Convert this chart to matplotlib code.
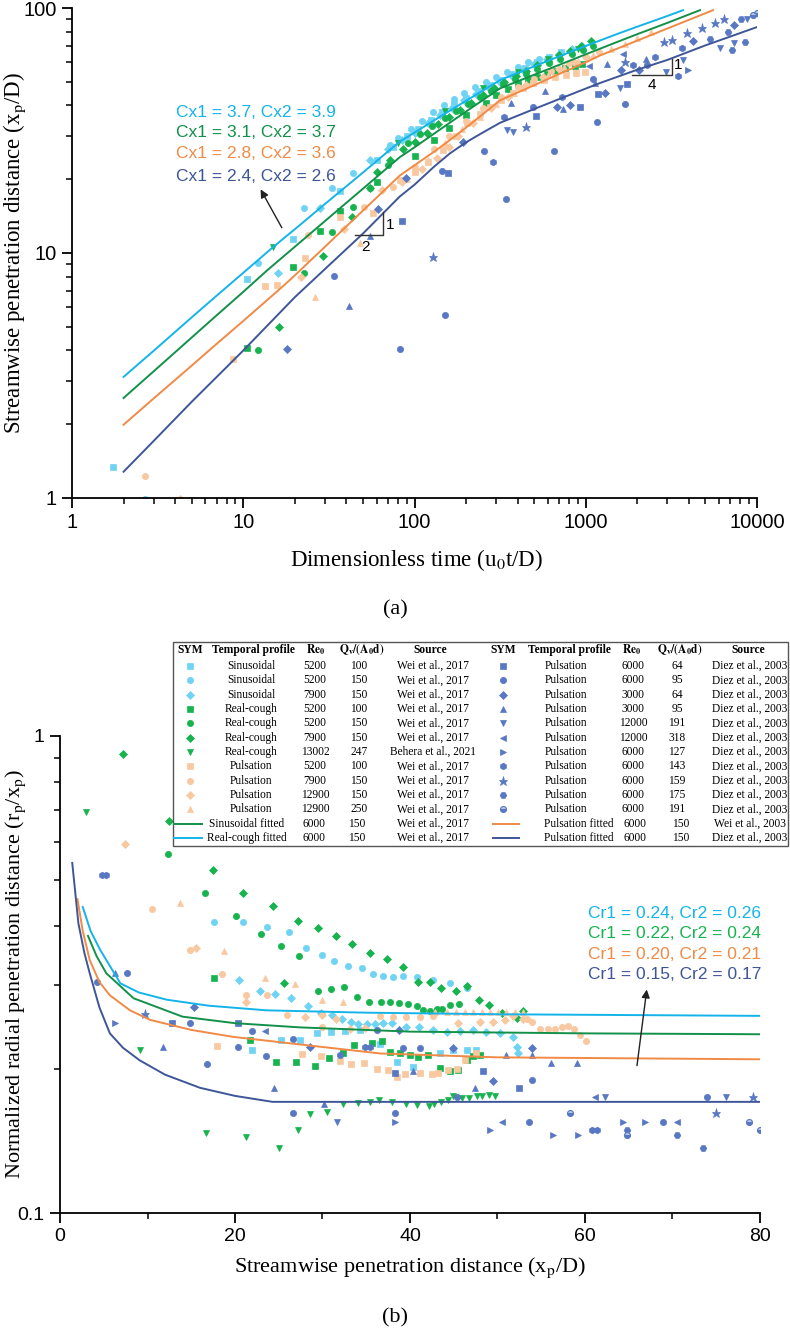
import matplotlib
matplotlib.use("Agg")
import matplotlib.pyplot as plt
from matplotlib.patches import Rectangle
from matplotlib.ticker import LogLocator, NullFormatter, FixedLocator, MultipleLocator

SERIF = ["Liberation Serif", "DejaVu Serif"]
SANS = ["Liberation Sans", "DejaVu Sans"]

plt.rcParams.update({
    "font.family": SERIF,
    "mathtext.fontset": "stix",
    "axes.linewidth": 1.3,
})

# --- colours ---
C_SIN, C_RC, C_PUL, C_DIEZ = "#6fd3f3", "#17b34f", "#f8c8a0", "#5878c4"
L_CYAN, L_GREEN, L_ORANGE, L_NAVY = "#14b4ea", "#13904a", "#f08a46", "#3e5598"

# ================= panel (a) data: t = u0t/D, y = xp/D =================
A_SIN100_T = [1.74, 10.5, 19.6, 36.5, 60, 75, 90, 105, 125, 145, 170, 200, 235, 275, 320, 375, 440, 520, 610, 720]
A_SIN100_Y = [1.34, 7.8, 11.4, 17.9, 24, 27, 30, 32, 35, 37.5, 40.5, 43, 46, 48.5, 51, 54, 57, 60, 63, 66]
A_SIN150_T = [2.67, 12.2, 22.6, 33, 43.7, 72, 80, 95, 110, 128, 148, 170, 195, 225, 260, 300, 345, 400, 460, 530]
A_SIN150_Y = [0.99, 9.1, 15.2, 18.5, 21.3, 27.6, 29.5, 32, 34.5, 37.5, 40, 42.5, 45, 47.5, 50, 52.5, 55, 57.5, 60, 62]
A_SIN7900_T = [16, 28, 55, 70, 85, 100, 120, 140, 165, 195, 230, 270, 315, 370, 430, 500, 590, 700, 830, 950]
A_SIN7900_Y = [8.3, 15.2, 24, 26.5, 29, 31, 34, 36.5, 39, 42, 44.5, 47.5, 50, 53, 56, 59, 62, 65, 68, 70]
A_RC100_T = [10.5, 19.6, 28, 36.5, 60, 100, 130, 160, 200, 260, 300, 350, 400, 460, 520, 590, 670, 760, 860, 950]
A_RC100_Y = [4.1, 8.8, 12.3, 14.8, 19.5, 25, 29, 32.5, 36.5, 41, 44, 46.5, 49, 51, 52.5, 54, 55.5, 57, 58, 59]
A_RC150_T = [12.2, 22.6, 33, 43.7, 55, 70, 92, 108, 127, 150, 175, 205, 240, 280, 330, 385, 450, 520, 610, 710,
             830, 960, 1100]
A_RC150_Y = [4.0, 8.3, 12.2, 15.4, 18.5, 22.8, 28, 30.5, 33, 35.5, 38, 40.5, 43.5, 46, 49, 51.5, 54, 56.5, 59.5, 62,
             65, 67.5, 70]
A_RC7900_T = [16.2, 29.2, 43, 55, 60, 72, 86, 100, 118, 138, 160, 185, 215, 250, 290, 335, 390, 450, 520, 600, 700,
              810, 940, 1080]
A_RC7900_Y = [5.0, 9.7, 14, 18.4, 21.5, 24, 26.5, 28.5, 31, 33.5, 36, 38.5, 41, 44, 47, 50, 53, 55.5, 58.5, 61, 64,
              67, 70, 73]
A_RC13002_T = [14.9, 80, 150, 250, 400, 600, 900]
A_RC13002_Y = [10.6, 28, 38, 47, 55, 62, 68]
A_PUL5200_T = [8.7, 13.4, 15.7, 22.9, 36.5, 57, 82, 100, 120, 147, 175, 202, 240, 275, 320, 375, 430, 495, 570, 660,
               770, 880, 990]
A_PUL5200_Y = [3.7, 7.3, 7.4, 9.5, 14, 14.6, 19.8, 21.5, 23.5, 26.3, 30, 34, 37, 39.5, 42, 45, 47, 49.5, 51, 52.5,
               53.5, 54.5, 55]
A_PUL7900_T = [2.67, 23.8, 51, 75, 100, 130, 160, 200, 250, 320, 400, 500, 630, 800, 1000, 1200]
A_PUL7900_Y = [1.23, 11.8, 15.4, 18.6, 22.5, 26.5, 30, 34.5, 39, 43.5, 47.5, 51.5, 55.5, 59.5, 63, 66]
A_PUL12900_T = [4.3, 21.8, 39, 65, 85, 110, 135, 160, 180, 220, 280, 350, 450, 560, 700, 850, 1000]
A_PUL12900_Y = [0.99, 8.0, 12.5, 18, 19.5, 22, 24.5, 27, 30, 34, 39, 43.5, 48.5, 52.5, 56.5, 60, 63]
A_PUL250_T = [26.3, 48, 90, 120, 150, 190, 240, 300, 380, 480, 600, 750, 900, 1100, 1400, 1700, 2000, 2400]
A_PUL250_Y = [6.6, 11, 20, 24, 28, 32, 36, 40.5, 45, 49.5, 53.5, 57.5, 61, 64.5, 68, 71.5, 75.5, 80]

A_D64_T = [84, 157, 515, 925, 1180, 1750]
A_D64_Y = [13.5, 21.2, 36.3, 39.5, 44.6, 49]
A_D95_T = [34, 82, 144, 150, 254, 342, 492, 650, 1100, 1170, 1700]
A_D95_Y = [8.05, 4.05, 21.6, 5.6, 26, 16.6, 39.5, 26, 51.4, 34.4, 40.5]
A_D3064_T = [18, 61, 89, 192, 680, 810, 1290, 1600, 2050, 4250, 7300]
A_D3064_Y = [4.05, 15.1, 20.3, 28.3, 39.5, 40.3, 45, 55.7, 55.7, 73.6, 85]
A_D3095_T = [41.5, 55, 367, 580, 740, 1140, 1330, 2250]
A_D3095_Y = [6.1, 11.7, 41, 45.8, 38.8, 49.5, 59, 62]
A_D191_T = [345, 375, 1580, 2950, 3700, 6050, 7300, 8700]
A_D191_Y = [31.8, 31.1, 47, 55, 61.5, 68.5, 72, 90]
A_D318_T = [1050, 1650]
A_D318_Y = [58, 65]
A_D127_T = [3980]
A_D127_Y = [55.7]
A_D143_T = [287, 333, 725, 1880, 2290, 2550, 3450, 3650]
A_D143_Y = [23.5, 35.8, 43.4, 58.5, 58.5, 63, 53, 68.5]
A_D159_T = [128, 446, 1700, 2880, 3200, 3900, 4800, 5650, 6450]
A_D159_Y = [9.6, 32.8, 60, 72.5, 74, 79, 82.5, 87, 90]
A_D175_T = [5300, 6800, 7100, 8100, 8500]
A_D175_Y = [75, 80, 67.5, 90.5, 72.5]
A_D191B_T = [9500, 10000]
A_D191B_Y = [94, 95]

# fitted curves (a)
FIT_A_CYAN_T = [2, 3, 5, 7, 10, 15, 20, 30, 50, 82, 100, 150, 200, 316, 500, 700, 1000, 1500, 2000, 3000, 3700]
FIT_A_CYAN_Y = [3.12, 3.99, 5.46, 6.7, 8.3, 10.6, 12.5, 15.85, 21.3, 28.5, 31, 37, 41.8, 50.8, 57.8, 63.5, 70, 78,
                83.9, 92.8, 98]
FIT_A_GREEN_T = [2, 3, 5, 7, 10, 13.8, 20, 30, 50, 82, 100, 150, 200, 316, 500, 700, 1000, 1520, 2000, 3000, 4650]
FIT_A_GREEN_Y = [2.56, 3.29, 4.52, 5.57, 6.94, 8.5, 10.6, 13.5, 18.3, 24.6, 27, 32.9, 37.8, 47, 53.4, 58.6, 64.7,
                 72.6, 78.2, 87, 98]
FIT_A_ORANGE_T = [2, 3, 5, 7, 10, 17, 20, 30, 50, 82, 100, 130, 161, 200, 250, 316, 500, 700, 1000, 1211, 2000,
                  3000, 5540]
FIT_A_ORANGE_Y = [1.99, 2.55, 3.47, 4.26, 5.28, 7.3, 8.1, 10.6, 14.9, 20.7, 22.8, 25.9, 28.9, 32.5, 36.8, 42, 48.4,
                  53.8, 60, 64, 73.6, 82.5, 98]
FIT_A_NAVY_T = [2, 3, 5, 7, 10, 15, 20, 30, 50, 82, 100, 130, 161, 200, 250, 316, 500, 700, 1000, 1211, 2000, 3000,
                5000, 7000, 10000]
FIT_A_NAVY_Y = [1.28, 1.71, 2.47, 3.12, 4.0, 5.36, 6.6, 8.6, 12.0, 17.0, 19.0, 22.5, 25.5, 28.3, 31, 34, 38.7, 42.5,
                46.9, 49.4, 56, 61.4, 70.4, 76.5, 83.6]

# ================= panel (b) data: x = xp/D, r = rp/xp =================
B_SIN100_X = [22, 25.3, 27.4, 29.4, 31, 32.6, 34.3, 36.6, 38.5, 40.4, 43.4, 44.9, 46.5, 47.6]
B_SIN100_R = [0.22, 0.23, 0.23, 0.238, 0.24, 0.241, 0.242, 0.226, 0.207, 0.2025, 0.2165, 0.22, 0.22, 0.22]
B_SIN150_X = [17.6, 20.9, 23.7, 26.2, 28.1, 29.9, 31.3, 32.9, 34.5, 35.8, 36.9, 38.1, 39.2, 40.8, 42.6, 44.6, 46.5]
B_SIN150_R = [0.407, 0.407, 0.398, 0.388, 0.359, 0.348, 0.337, 0.33, 0.326, 0.317, 0.314, 0.312, 0.314, 0.312,
              0.308, 0.304, 0.296]
B_SIN7900_X = [20.5, 22.9, 24.6, 26.4, 28.3, 29.8, 31.1, 32.2, 33.3, 34.1, 35.1, 36, 36.9, 37.9, 39.5, 41, 42.6,
               44.2, 45.7, 47.2, 48.7, 50.3, 51.8, 52.2, 52.3]
B_SIN7900_R = [0.308, 0.292, 0.288, 0.282, 0.271, 0.2625, 0.26, 0.255, 0.2515, 0.249, 0.249, 0.249, 0.25, 0.25,
               0.246, 0.245, 0.242, 0.2395, 0.241, 0.2415, 0.24, 0.2385, 0.2335, 0.2225, 0.2165]
B_RC100_X = [17.6, 21.7, 24.7, 27, 29.1, 30.7, 32.3, 33.6, 35.7, 36.8, 37.7, 38.9, 40, 40.9, 42.1, 43.4, 44.6,
             45.5, 46.5, 47.2, 48]
B_RC100_R = [0.311, 0.23, 0.207, 0.207, 0.203, 0.211, 0.217, 0.225, 0.227, 0.229, 0.218, 0.2165, 0.2145, 0.2125,
             0.2145, 0.2015, 0.198, 0.1995, 0.209, 0.2135, 0.2145]
B_RC150_X = [12.3, 16.6, 20.1, 23, 25.3, 27.3, 29.5, 31, 32.5, 34, 35.3, 36.7, 37.7, 38.7, 39.8, 40.8, 41.5,
             42.3, 43.1, 43.7, 44.6, 45.6]
B_RC150_R = [0.566, 0.469, 0.42, 0.385, 0.363, 0.346, 0.292, 0.295, 0.298, 0.284, 0.277, 0.277, 0.277, 0.2755,
             0.274, 0.271, 0.266, 0.265, 0.2675, 0.2675, 0.273, 0.274]
B_RC7900_X = [7.2, 12.5, 17.5, 20.9, 24.3, 25.6, 27.2, 29.5, 31.5, 33.4, 35.4, 37.4, 39.2, 40.9, 42.3, 43.6,
              45.3, 46.5, 47.9, 49, 50.5, 52.2, 52.9]
B_RC7900_R = [0.917, 0.664, 0.524, 0.469, 0.44, 0.303, 0.409, 0.396, 0.38, 0.366, 0.351, 0.341, 0.328, 0.305,
              0.305, 0.296, 0.292, 0.2995, 0.279, 0.273, 0.2625, 0.2565, 0.265]
B_RC13002_X = [3.0, 9.1, 16.7, 21.3, 25, 27.2, 28.6, 30.5, 32.4, 34.1, 35.4, 36.5, 38.0, 39.6, 40.8, 42.2,
               42.7, 43.6, 44.3, 44.9, 46, 46.8, 47.7, 48.2, 49, 49.7]
B_RC13002_R = [0.693, 0.22, 0.147, 0.144, 0.137, 0.149, 0.161, 0.163, 0.169, 0.17, 0.1705, 0.1725, 0.171, 0.169,
               0.1685, 0.168, 0.169, 0.171, 0.1725, 0.1755, 0.174, 0.1745, 0.1755, 0.176, 0.1768, 0.1762]
B_PUL5200_X = [17.9, 27.7, 29.8, 32, 33.3, 34.8, 36.2, 37.5, 38.5, 39.4, 41.1, 42.5, 43.2, 44.3, 45.4, 46.3, 47.6]
B_PUL5200_R = [0.224, 0.215, 0.2135, 0.208, 0.205, 0.2065, 0.2, 0.1995, 0.193, 0.1955, 0.197, 0.196, 0.197,
               0.1995, 0.2, 0.2095, 0.2165]
B_PUL7900_X = [10.5, 14.9, 18.5, 21.3, 23.7, 26, 29.9, 36.6, 38.1, 39.6, 41.1, 42.6, 53.4, 53.9, 54.9, 55.8,
               56.6, 57.4, 58.1, 58.7, 59.4, 60.1]
B_PUL7900_R = [0.434, 0.356, 0.317, 0.287, 0.287, 0.26, 0.245, 0.2585, 0.257, 0.2575, 0.257, 0.259, 0.2545,
               0.252, 0.2435, 0.2425, 0.2435, 0.246, 0.2465, 0.2425, 0.2365, 0.2295]
B_PUL12900_X = [7.4, 15.5, 21.3, 28, 30, 31.6, 33.1, 34.9, 45.5, 48, 49.5, 50.9, 51.8, 52.9]
B_PUL12900_R = [0.594, 0.36, 0.277, 0.257, 0.26, 0.2555, 0.243, 0.2445, 0.25, 0.2515, 0.2515, 0.254, 0.2585, 0.255]
B_PUL250_X = [13.7, 18.7, 23.4, 26.9, 30, 32.4, 42.9, 44.2, 45.3, 46.3, 47.2, 48.2, 49.1, 50.1, 51, 52, 52.9]
B_PUL250_R = [0.447, 0.354, 0.311, 0.302, 0.279, 0.277, 0.2637, 0.2637, 0.2637, 0.2637, 0.2637, 0.2637, 0.2637,
              0.2637, 0.2637, 0.2637, 0.2637]

B_D64_X = [12.8, 20.4, 38.3, 48.3, 52.5]
B_D64_R = [0.25, 0.25, 0.197, 0.198, 0.183]
B_D95_X = [4.2, 7.7, 14.9, 16.8, 20.4, 21.9, 23.5, 26.6, 32, 36.2, 39.2, 41.2, 54, 26.6, 38.3, 45.4, 53.6, 68.9, 73.9]
B_D95_R = [0.305, 0.318, 0.25, 0.205, 0.223, 0.241, 0.213, 0.232, 0.214, 0.242, 0.2215, 0.2215, 0.19, 0.162,
           0.162, 0.175, 0.155, 0.155, 0.175]
B_D3064_X = [15.3, 28.6, 38.8, 44.9, 49.5, 54]
B_D3064_R = [0.27, 0.223, 0.2415, 0.2215, 0.189, 0.2215]
B_D3095_X = [6.3, 11.8, 24.5, 30.2, 40.3, 47.4, 51, 54, 56.1, 59.1]
B_D3095_R = [0.318, 0.223, 0.183, 0.169, 0.198, 0.183, 0.2145, 0.2145, 0.2065, 0.2065]
B_D191_X = [31.7, 62.3, 76.1]
B_D191_R = [0.155, 0.175, 0.175]
B_D318_X = [23.4, 50.5, 61.1, 70.5]
B_D318_R = [0.241, 0.155, 0.175, 0.155]
B_D127_X = [6.3, 38.3, 49.1, 56.3, 59.2, 64.4, 66.9]
B_D127_R = [0.25, 0.155, 0.149, 0.1455, 0.1455, 0.155, 0.155]
B_D143_X = [4.8, 5.3, 34.9, 35.4, 60.8, 61.4]
B_D143_R = [0.511, 0.511, 0.223, 0.223, 0.149, 0.149]
B_D159_X = [9.7, 75, 79.2]
B_D159_R = [0.261, 0.162, 0.175]
B_D175_X = [64.8, 70.5, 73.5]
B_D175_R = [0.149, 0.1455, 0.137]
B_D191B_X = [58.3, 64.8, 78.7, 80]
B_D191B_R = [0.162, 0.1455, 0.155, 0.149]

FIT_B_CYAN_X = [2.6, 3.5, 4.6, 6.9, 9, 12.2, 17, 23.6, 35, 50, 80]
FIT_B_CYAN_R = [0.438, 0.39, 0.356, 0.303, 0.29, 0.28, 0.272, 0.266, 0.263, 0.261, 0.259]
FIT_B_GREEN_X = [3.2, 4.2, 5.3, 8.4, 14, 20, 27.4, 40, 60, 80]
FIT_B_GREEN_R = [0.381, 0.345, 0.318, 0.282, 0.258, 0.25, 0.245, 0.24, 0.238, 0.237]
FIT_B_ORANGE_X = [2.0, 2.6, 3.4, 4.5, 5.7, 8, 10.3, 15, 19.8, 28, 36.6, 50, 80]
FIT_B_ORANGE_R = [0.455, 0.39, 0.339, 0.305, 0.286, 0.266, 0.254, 0.242, 0.234, 0.225, 0.216, 0.212, 0.21]
FIT_B_NAVY_X = [1.4, 2.1, 2.8, 3.4, 4.5, 5.7, 7.2, 9.1, 12, 16, 20, 24.3, 40, 60, 80]
FIT_B_NAVY_R = [0.542, 0.405, 0.35, 0.318, 0.27, 0.238, 0.222, 0.209, 0.195, 0.183, 0.176, 0.171, 0.171, 0.171, 0.171]

# legend table rows
LEFT_PROFILE = ["Sinusoidal"] * 3 + ["Real-cough"] * 4 + ["Pulsation"] * 4
LEFT_RE = ["5200", "5200", "7900", "5200", "5200", "7900", "13002", "5200", "7900", "12900", "12900"]
LEFT_Q = ["100", "150", "150", "100", "150", "150", "247", "100", "150", "150", "250"]
LEFT_SRC = ["Wei et al., 2017"] * 6 + ["Behera et al., 2021"] + ["Wei et al., 2017"] * 4
RIGHT_RE = ["6000", "6000", "3000", "3000", "12000", "12000", "6000", "6000", "6000", "6000", "6000"]
RIGHT_Q = ["64", "95", "64", "95", "191", "318", "127", "143", "159", "175", "191"]
FIT_LABELS = ["Sinusoidal fitted", "Real-cough fitted", "Pulsation fitted", "Pulsation fitted"]
FIT_SRC = ["Wei et al., 2017", "Wei et al., 2017", "Wei et al., 2003", "Diez et al., 2003"]

# marker styles (series order of the table)
LEFT_STYLE = [("s", C_SIN), ("o", C_SIN), ("D", C_SIN), ("s", C_RC), ("o", C_RC), ("D", C_RC), ("v", C_RC),
              ("s", C_PUL), ("o", C_PUL), ("D", C_PUL), ("^", C_PUL)]
RIGHT_STYLE = [("s", C_DIEZ), ("o", C_DIEZ), ("D", C_DIEZ), ("^", C_DIEZ), ("v", C_DIEZ), ("<", C_DIEZ),
               (">", C_DIEZ), ("h", C_DIEZ), ("*", C_DIEZ), ("H", C_DIEZ), ("half", C_DIEZ)]
MS = {"s": 4.2, "o": 4.5, "D": 3.6, "v": 4.8, "^": 4.8, "<": 4.8, ">": 4.8, "h": 4.8, "*": 6.5, "H": 4.8, "half": 4.3}


def mk(ax, x, y, style, **kw):
    m, c = style
    if m == "half":
        ax.plot(x, y, ls="none", marker="o", ms=MS[m], color=c, mec=c, fillstyle="bottom",
                markerfacecoloralt="#b9c8ec", mew=0.8, **kw)
    else:
        ax.plot(x, y, ls="none", marker=m, ms=MS[m], color=c, mec=c, mew=0.5, **kw)


def style_axis(ax, fs):
    for s in ("top", "right"):
        ax.spines[s].set_visible(False)
    ax.tick_params(which="major", direction="out", length=7, width=1.3, labelsize=fs, pad=4)
    ax.tick_params(which="minor", direction="out", length=4, width=1.1)
    for lab in ax.get_xticklabels() + ax.get_yticklabels():
        lab.set_family(SANS)


fig = plt.figure(figsize=(7.9, 13.32), dpi=100)
W, H = 790.0, 1332.0

# ------------------------------------------------ panel (a)
ax1 = fig.add_axes([72 / W, 1 - 498 / H, 685 / W, 490 / H])
ax1.set_xscale("log")
ax1.set_yscale("log")

a_series = [
    (A_SIN100_T, A_SIN100_Y), (A_SIN150_T, A_SIN150_Y), (A_SIN7900_T, A_SIN7900_Y),
    (A_RC100_T, A_RC100_Y), (A_RC150_T, A_RC150_Y), (A_RC7900_T, A_RC7900_Y), (A_RC13002_T, A_RC13002_Y),
    (A_PUL5200_T, A_PUL5200_Y), (A_PUL7900_T, A_PUL7900_Y), (A_PUL12900_T, A_PUL12900_Y), (A_PUL250_T, A_PUL250_Y),
]
a_diez = [
    (A_D64_T, A_D64_Y), (A_D95_T, A_D95_Y), (A_D3064_T, A_D3064_Y), (A_D3095_T, A_D3095_Y),
    (A_D191_T, A_D191_Y), (A_D318_T, A_D318_Y), (A_D127_T, A_D127_Y), (A_D143_T, A_D143_Y),
    (A_D159_T, A_D159_Y), (A_D175_T, A_D175_Y), (A_D191B_T, A_D191B_Y),
]
for (x, y), st in zip(a_series + a_diez, LEFT_STYLE + RIGHT_STYLE):
    mk(ax1, x, y, st, zorder=2)

ax1.plot(FIT_A_CYAN_T, FIT_A_CYAN_Y, color=L_CYAN, lw=1.4, zorder=3)
ax1.plot(FIT_A_GREEN_T, FIT_A_GREEN_Y, color=L_GREEN, lw=1.4, zorder=3)
ax1.plot(FIT_A_ORANGE_T, FIT_A_ORANGE_Y, color=L_ORANGE, lw=1.4, zorder=3)
ax1.plot(FIT_A_NAVY_T, FIT_A_NAVY_Y, color=L_NAVY, lw=1.4, zorder=3)

ax1.set_xlim(1, 10000)
ax1.set_ylim(1, 100)
ax1.xaxis.set_major_locator(FixedLocator([1, 10, 100, 1000, 10000]))
ax1.set_xticklabels(["1", "10", "100", "1000", "10000"])
ax1.yaxis.set_major_locator(FixedLocator([1, 10, 100]))
ax1.set_yticklabels(["1", "10", "100"])
ax1.xaxis.set_minor_locator(LogLocator(base=10, subs=range(2, 10)))
ax1.yaxis.set_minor_locator(LogLocator(base=10, subs=range(2, 10)))
ax1.xaxis.set_minor_formatter(NullFormatter())
ax1.yaxis.set_minor_formatter(NullFormatter())
style_axis(ax1, 14.5)
ax1.set_xlabel(r"Dimensionless time (u$_0$t/D)", fontsize=16.5)
ax1.set_ylabel(r"Streamwise penetration distance (x$_\mathrm{p}$/D)", fontsize=16.5)
ax1.xaxis.set_label_coords(0.503, -0.1)
ax1.yaxis.set_label_coords(-0.064, 0.5)

# slope triangles
ax1.plot([45, 65.5, 65.5], [11.8, 11.8, 14.7], color="#333333", lw=1.0, zorder=4)
ax1.text(52, 10.6, "2", fontsize=11, family=SANS, ha="center", va="center")
ax1.text(72, 13.0, "1", fontsize=11, family=SANS, ha="center", va="center")
ax1.plot([1862, 3190, 3190], [53.3, 53.3, 61.9], color="#333333", lw=1.0, zorder=4)
ax1.text(2440, 48.5, "4", fontsize=11, family=SANS, ha="center", va="center")
ax1.text(3450, 58.5, "1", fontsize=11, family=SANS, ha="center", va="center")

for txt, yy, col in [("Cx1 = 3.7, Cx2 = 3.9", 37.6, L_CYAN), ("Cx1 = 3.1, Cx2 = 3.7", 30.9, L_GREEN),
                     ("Cx1 = 2.8, Cx2 = 3.6", 25.4, L_ORANGE), ("Cx1 = 2.4, Cx2 = 2.6", 20.6, L_NAVY)]:
    ax1.text(4.05, yy, txt, color=col, fontsize=12.5, family=SANS, ha="left", va="center")
ax1.annotate("", xy=(12.4, 18.6), xytext=(17.1, 12.4),
             arrowprops=dict(arrowstyle="-|>", color="#222222", lw=1.0, mutation_scale=12))

fig.text(395 / W, 1 - 610 / H, "(a)", fontsize=16, ha="center", va="center")

# ------------------------------------------------ panel (b)
ax2 = fig.add_axes([60 / W, 1 - 1213 / H, 700 / W, 477 / H])
ax2.set_yscale("log")
b_series = [
    (B_SIN100_X, B_SIN100_R), (B_SIN150_X, B_SIN150_R), (B_SIN7900_X, B_SIN7900_R),
    (B_RC100_X, B_RC100_R), (B_RC150_X, B_RC150_R), (B_RC7900_X, B_RC7900_R), (B_RC13002_X, B_RC13002_R),
    (B_PUL5200_X, B_PUL5200_R), (B_PUL7900_X, B_PUL7900_R), (B_PUL12900_X, B_PUL12900_R), (B_PUL250_X, B_PUL250_R),
]
b_diez = [
    (B_D64_X, B_D64_R), (B_D95_X, B_D95_R), (B_D3064_X, B_D3064_R), (B_D3095_X, B_D3095_R),
    (B_D191_X, B_D191_R), (B_D318_X, B_D318_R), (B_D127_X, B_D127_R), (B_D143_X, B_D143_R),
    (B_D159_X, B_D159_R), (B_D175_X, B_D175_R), (B_D191B_X, B_D191B_R),
]
for (x, y), st in zip(b_series + b_diez, LEFT_STYLE + RIGHT_STYLE):
    mk(ax2, x, y, st, zorder=2)

ax2.plot(FIT_B_CYAN_X, FIT_B_CYAN_R, color=L_CYAN, lw=1.4, zorder=3)
ax2.plot(FIT_B_GREEN_X, FIT_B_GREEN_R, color=L_GREEN, lw=1.4, zorder=3)
ax2.plot(FIT_B_ORANGE_X, FIT_B_ORANGE_R, color=L_ORANGE, lw=1.4, zorder=3)
ax2.plot(FIT_B_NAVY_X, FIT_B_NAVY_R, color=L_NAVY, lw=1.4, zorder=3)

ax2.set_xlim(0, 80)
ax2.set_ylim(0.1, 1)
ax2.xaxis.set_major_locator(MultipleLocator(20))
ax2.xaxis.set_minor_locator(MultipleLocator(10))
ax2.yaxis.set_major_locator(FixedLocator([0.1, 1]))
ax2.set_yticklabels(["0.1", "1"])
ax2.yaxis.set_minor_locator(LogLocator(base=10, subs=range(2, 10)))
ax2.yaxis.set_minor_formatter(NullFormatter())
style_axis(ax2, 14)
ax2.set_xlabel(r"Streamwise penetration distance (x$_\mathrm{p}$/D)", fontsize=16)
ax2.set_ylabel(r"Normalized radial penetration distance (r$_\mathrm{p}$/x$_\mathrm{p}$)", fontsize=16)
ax2.xaxis.set_label_coords(0.5, -0.09)
ax2.yaxis.set_label_coords(-0.045, 0.5)

cr_col = [L_CYAN, C_RC, L_ORANGE, L_NAVY]
for txt, yy, col in zip(["Cr1 = 0.24, Cr2 = 0.26", "Cr1 = 0.22, Cr2 = 0.24",
                         "Cr1 = 0.20, Cr2 = 0.21", "Cr1 = 0.15, Cr2 = 0.17"],
                        [0.424, 0.385, 0.3485, 0.316], cr_col):
    ax2.text(60.3, yy, txt, color=col, fontsize=12.5, family=SANS, ha="left", va="center")
ax2.annotate("", xy=(67.1, 0.298), xytext=(65.9, 0.201),
             arrowprops=dict(arrowstyle="-|>", color="#222222", lw=1.0, mutation_scale=12))

fig.text(395 / W, 1 - 1318 / H, "(b)", fontsize=16, ha="center", va="center")

# ------------------------------------------------ legend table (pixel coordinates)
lg = fig.add_axes([173 / W, 1 - 846 / H, 615 / W, 204 / H])
lg.set_xlim(173, 788)
lg.set_ylim(846, 642)
lg.axis("off")
lg.set_zorder(5)
lg.add_patch(Rectangle((173, 642), 615, 204, facecolor="white", edgecolor="#555555", lw=1.0, clip_on=False))

TFS = 8.3
head_y = 650
head_labels = ["SYM", "Temporal profile", r"$\mathbf{Re_0}$", r"$\mathbf{Q_v/(A_0d)}$", "Source"]
for xs in [(190, 253, 316, 362, 430), (503, 569, 632, 680, 748)]:
    for xc, s in zip(xs, head_labels):
        lg.text(xc, head_y, s, fontsize=TFS, fontweight="bold", ha="center", va="center")

row_y = [666 + i * 14.33 for i in range(13)]
for i in range(11):
    y = row_y[i]
    mk(lg, [190], [y], LEFT_STYLE[i])
    lg.text(251, y, LEFT_PROFILE[i], fontsize=TFS, ha="center", va="center")
    lg.text(315, y, LEFT_RE[i], fontsize=TFS, ha="center", va="center")
    lg.text(359, y, LEFT_Q[i], fontsize=TFS, ha="center", va="center")
    lg.text(433, y, LEFT_SRC[i], fontsize=TFS, ha="center", va="center")
    mk(lg, [503], [y], RIGHT_STYLE[i])
    lg.text(566, y, "Pulsation", fontsize=TFS, ha="center", va="center")
    lg.text(633, y, RIGHT_RE[i], fontsize=TFS, ha="center", va="center")
    lg.text(677, y, RIGHT_Q[i], fontsize=TFS, ha="center", va="center")
    lg.text(750, y, "Diez et al., 2003", fontsize=TFS, ha="center", va="center")

fit_cols = [L_GREEN, L_CYAN, L_ORANGE, L_NAVY]
for k in range(4):
    y = row_y[11 + k % 2]
    if k < 2:
        x0, x1, xl, xr, xq, xs = 174, 202, 247, 314, 357, 433
    else:
        x0, x1, xl, xr, xq, xs = 493, 519, 579, 635, 681, 750
    lg.plot([x0, x1], [y, y], color=fit_cols[k], lw=1.4)
    lg.text(xl, y, FIT_LABELS[k], fontsize=TFS, ha="center", va="center")
    lg.text(xr, y, "6000", fontsize=TFS, ha="center", va="center")
    lg.text(xq, y, "150", fontsize=TFS, ha="center", va="center")
    lg.text(xs, y, FIT_SRC[k], fontsize=TFS, ha="center", va="center")

fig.savefig("out.png", dpi=100)
